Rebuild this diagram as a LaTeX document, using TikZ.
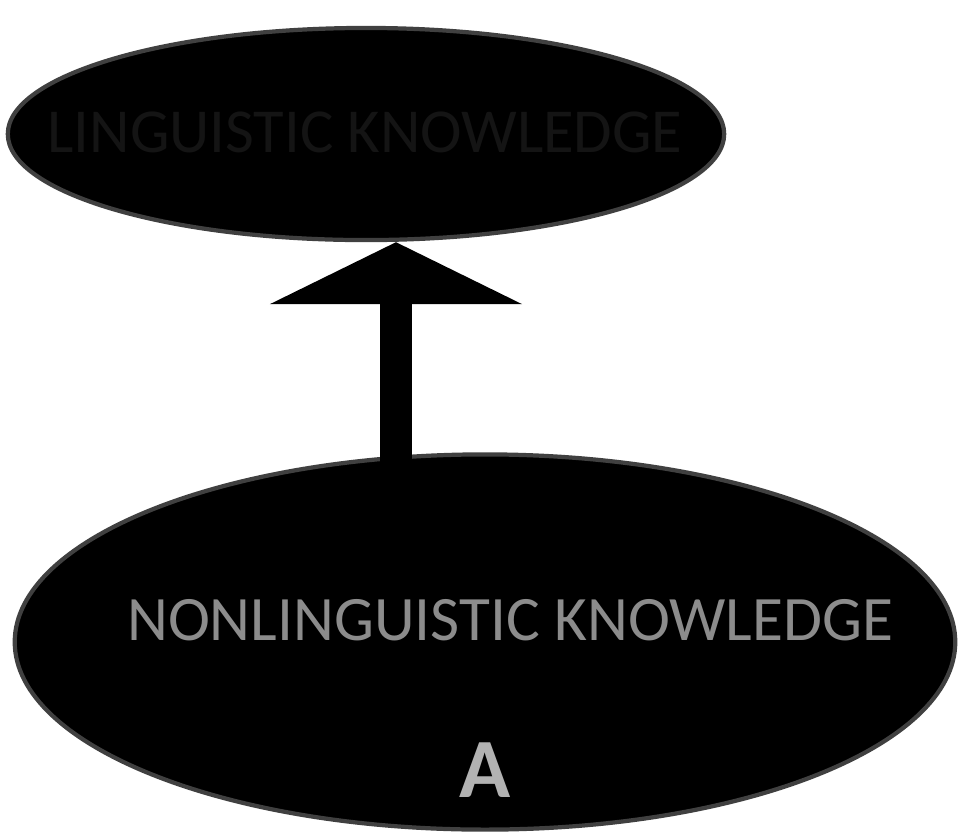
\documentclass[tikz,border=0pt]{standalone}
\usepackage{fontspec}
\setmainfont{Carlito}
\usetikzlibrary{shapes.geometric,arrows.meta}
\tikzset{
  blob/.style={ellipse, fill=black, draw=black!75, line width=1.2pt, inner sep=0pt},
  toplabel/.style={text=black!92, font=\fontsize{17.8}{18}\selectfont, inner sep=0pt},
  botlabel/.style={text=black!45, font=\fontsize{18}{18}\selectfont, inner sep=0pt},
  bigarrow/.style={line width=0.32cm, black, -{Triangle[width=2.5cm 0 0,length=0.62cm 0 0]}}
}
\begin{document}
\begin{tikzpicture}[x=0.01cm,y=-0.01cm]
\useasboundingbox (0,0) rectangle (959,832);
\node[blob, minimum width=7.16cm, minimum height=2.12cm] (top) at (366,134) {};
\node[blob, minimum width=9.4cm, minimum height=3.75cm] (bot) at (485,642) {};
\node[toplabel] (tl) at (365,132) {LINGUISTIC KNOWLEDGE};
\node[botlabel] (bl) at (510,620) {NONLINGUISTIC KNOWLEDGE};
\node[botlabel, font=\fontsize{24}{24}\bfseries\selectfont, text=black!30] (al) at (485,770) {A};
\coordinate (s) at (396,472);
\draw[bigarrow] (s) -- (s |- top.south);
\end{tikzpicture}
\end{document}
